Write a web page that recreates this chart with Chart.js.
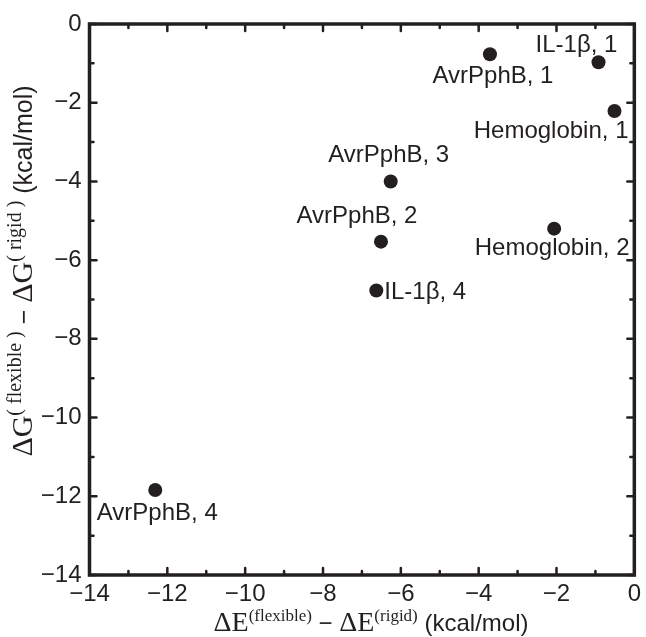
<!DOCTYPE html>
<html>
<head>
<meta charset="utf-8">
<script src="https://cdn.jsdelivr.net/npm/chart.js@4"></script>
<style>
    html, body { margin: 0; padding: 0; background: #fff; }
    #wrap { width: 646px; height: 637px; }
</style>
</head>
<body>
<div id="wrap"><canvas id="chart-scatter" width="646" height="637"></canvas></div>
<script>
// ── 資料 ──
const xValues = [-3.71, -0.92, -0.51, -6.26, -6.51, -6.63, -2.06, -12.31];
const yValues = [-0.77, -0.97, -2.21, -4.00, -5.53, -6.77, -5.20, -11.84];
const pointNames = ['AvrPphB, 1', 'IL-1β, 1', 'Hemoglobin, 1', 'AvrPphB, 3',
    'AvrPphB, 2', 'IL-1β, 4', 'Hemoglobin, 2', 'AvrPphB, 4'];
const xTicks = [-14, -12, -10, -8, -6, -4, -2, 0];
const yTicks = [-14, -12, -10, -8, -6, -4, -2, 0];

// 標籤相對點的位置 (px)
const labelPlace = [
    { dx: 3, dy: 22, align: 'center' },
    { dx: -22, dy: -17, align: 'center' },
    { dx: 14, dy: 20, align: 'right' },
    { dx: -2, dy: -26, align: 'center' },
    { dx: -24, dy: -25, align: 'center' },
    { dx: 8, dy: 2, align: 'left' },
    { dx: -2, dy: 20, align: 'center' },
    { dx: 2, dy: 23, align: 'center' },
];

const INK = '#231f20';
const SANS = '"Liberation Sans", Arial, sans-serif';
const SERIF = '"Liberation Serif", "Times New Roman", serif';

const fmt = v => (v < 0 ? '\u2212' + Math.abs(v) : String(v));

// ── 外框與內向刻度 ──
const framePlugin = {
    id: 'frame',
    afterDraw(chart) {
        const { ctx, chartArea: a, scales } = chart;
        ctx.save();
        ctx.strokeStyle = INK;
        ctx.lineCap = 'round';
        ctx.lineWidth = 2.5;
        scales.x.ticks.forEach(t => {
            const px = scales.x.getPixelForValue(t.value);
            const len = xTicks.includes(t.value) ? 7 : 4;
            ctx.beginPath();
            ctx.moveTo(px, a.bottom); ctx.lineTo(px, a.bottom - len);
            ctx.moveTo(px, a.top); ctx.lineTo(px, a.top + len);
            ctx.stroke();
        });
        scales.y.ticks.forEach(t => {
            const py = scales.y.getPixelForValue(t.value);
            const len = yTicks.includes(t.value) ? 7 : 4;
            ctx.beginPath();
            ctx.moveTo(a.left, py); ctx.lineTo(a.left + len, py);
            ctx.moveTo(a.right, py); ctx.lineTo(a.right - len, py);
            ctx.stroke();
        });
        ctx.lineCap = 'butt';
        ctx.lineWidth = 3.5;
        ctx.strokeRect(a.left, a.top, a.right - a.left, a.bottom - a.top);

        // 點標籤
        const meta = chart.getDatasetMeta(0);
        ctx.fillStyle = INK;
        ctx.font = '24px ' + SANS;
        ctx.textBaseline = 'middle';
        meta.data.forEach((pt, i) => {
            const p = labelPlace[i];
            ctx.textAlign = p.align;
            ctx.fillText(pointNames[i], pt.x + p.dx, pt.y + p.dy);
        });

        // 軸標題
        drawTitle(ctx, 371, 622, 0, 'E', [28, 17, 24], '');
        drawTitle(ctx, 22, 271, -Math.PI / 2, 'G', [30, 20, 25], ' ');
        ctx.restore();
    }
};

function drawTitle(ctx, cx, cy, rot, sym, sz, gap) {
    const parts = [
        { t: '\u0394' + sym, f: sz[0] + 'px ' + SERIF, up: 0 },
        { t: '(' + gap + 'flexible' + gap + ')', f: sz[1] + 'px ' + SERIF, up: sz[0] * 0.36 },
        { t: ' \u2212 ', f: sz[2] + 'px ' + SANS, up: 0 },
        { t: '\u0394' + sym, f: sz[0] + 'px ' + SERIF, up: 0 },
        { t: '(' + gap + 'rigid' + gap + ')', f: sz[1] + 'px ' + SERIF, up: sz[0] * 0.36 },
        { t: ' (kcal/mol)', f: sz[2] + 'px ' + SANS, up: 0 },
    ];
    let total = 0;
    parts.forEach(p => { ctx.font = p.f; p.w = ctx.measureText(p.t).width; total += p.w; });
    ctx.save();
    ctx.translate(cx, cy);
    ctx.rotate(rot);
    ctx.textAlign = 'left';
    ctx.textBaseline = 'alphabetic';
    let x = -total / 2;
    parts.forEach(p => {
        ctx.font = p.f;
        ctx.fillText(p.t, x, sz[0] * 0.33 - p.up);
        x += p.w;
    });
    ctx.restore();
}

new Chart(document.getElementById('chart-scatter').getContext('2d'), {
    type: 'scatter',
    data: {
        datasets: [{
            data: xValues.map((x, i) => ({ x, y: yValues[i] })),
            backgroundColor: INK,
            borderWidth: 0,
            pointRadius: 7,
            pointHoverRadius: 7,
        }],
    },
    options: {
        responsive: false,
        animation: false,
        events: [],
        layout: { padding: { left: 0, right: 7, top: 24, bottom: 0 } },
        plugins: { legend: { display: false }, tooltip: { enabled: false } },
        scales: {
            x: {
                min: -14, max: 0,
                grid: { display: false, drawTicks: false },
                border: { display: false },
                ticks: {
                    stepSize: 1, autoSkip: false, maxRotation: 0, padding: 5,
                    color: INK, font: { family: SANS, size: 24 },
                    callback: v => (xTicks.includes(v) ? fmt(v) : ''),
                },
                afterFit: s => { s.height = 62; },
            },
            y: {
                min: -14, max: 0,
                grid: { display: false, drawTicks: false },
                border: { display: false },
                ticks: {
                    stepSize: 1, autoSkip: false, padding: 8,
                    color: INK, font: { family: SANS, size: 24 },
                    callback: v => (yTicks.includes(v) ? fmt(v) : ''),
                },
                afterFit: s => { s.width = 89.5; },
            },
        },
    },
    plugins: [framePlugin],
});
</script>
</body>
</html>
